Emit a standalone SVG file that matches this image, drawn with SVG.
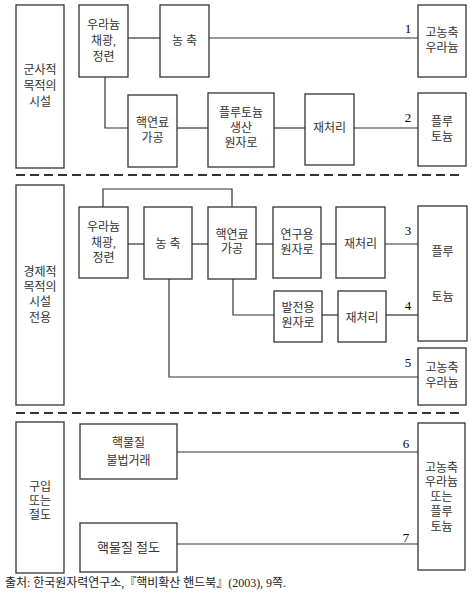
<svg xmlns="http://www.w3.org/2000/svg" width="476" height="603" viewBox="0 0 476 603">
<style>
rect{fill:#fff;stroke:#333;stroke-width:1.3}
.c path,.c line{fill:none;stroke:#333;stroke-width:1.2}
.d{stroke:#333;stroke-width:2;stroke-dasharray:9 5}
text{font-family:"Liberation Serif","Noto Sans CJK KR",serif;font-size:12px;fill:#333;text-anchor:middle;dominant-baseline:central}
.n{font-size:13px;fill:#000}
.cap{text-anchor:start;font-size:12px;fill:#222}
</style>
<rect width="476" height="603" style="fill:#fff;stroke:none"/>
<g class="c" id="connectors">
<line x1="128" y1="38" x2="160" y2="38"/>
<line x1="209" y1="38" x2="418" y2="38"/>
<path d="M105 77V128H128"/>
<line x1="177" y1="128" x2="208" y2="128"/>
<line x1="274" y1="128" x2="305" y2="128"/>
<line x1="354" y1="128" x2="418" y2="128"/>
<path d="M103 207V189H232V207"/>
<line x1="128" y1="244" x2="144" y2="244"/>
<line x1="192" y1="244" x2="208" y2="244"/>
<line x1="256" y1="244" x2="273" y2="244"/>
<line x1="321" y1="244" x2="336" y2="244"/>
<line x1="385" y1="244" x2="418" y2="244"/>
<path d="M233 279V315H274"/>
<line x1="322" y1="315" x2="338" y2="315"/>
<line x1="386" y1="315" x2="418" y2="315"/>
<path d="M169 279V377H418"/>
<line x1="177" y1="452" x2="418" y2="452"/>
<line x1="177" y1="544" x2="418" y2="544"/>
</g>
<g id="dividers">
<line class="d" x1="16" y1="175" x2="460" y2="175"/>
<line class="d" x1="16" y1="413" x2="460" y2="413"/>
</g>
<g id="labels">
<text class="n" x="408" y="28">1</text>
<text class="n" x="408" y="117">2</text>
<text class="n" x="408" y="230">3</text>
<text class="n" x="408" y="305">4</text>
<text class="n" x="408" y="362">5</text>
<text class="n" x="406" y="443">6</text>
<text class="n" x="406" y="537">7</text>
</g>
<g id="sec1-label"><rect x="16" y="5" width="48" height="163"/><text x="40" y="70">군사적</text><text x="40" y="86">목적의</text><text x="40" y="102">시설</text></g>
<g id="s1-mine"><rect x="79" y="5" width="49" height="72"/><text x="103.5" y="25">우라늄</text><text x="103.5" y="41">채광,</text><text x="103.5" y="57">정련</text></g>
<g id="s1-enrich"><rect x="160" y="5" width="49" height="72"/><text x="184.5" y="41">농 축</text></g>
<g id="s1-heu"><rect x="418" y="5" width="48" height="72"/><text x="442" y="33">고농축</text><text x="442" y="48">우라늄</text></g>
<g id="s1-fuel"><rect x="128" y="95" width="49" height="72"/><text x="152.5" y="123">핵연료</text><text x="152.5" y="138">가공</text></g>
<g id="s1-reactor"><rect x="208" y="93" width="66" height="74"/><text x="241" y="113">플루토늄</text><text x="241" y="128">생산</text><text x="241" y="143">원자로</text></g>
<g id="s1-repro"><rect x="305" y="94" width="49" height="71"/><text x="329.5" y="128">재처리</text></g>
<g id="s1-pu"><rect x="418" y="93" width="48" height="73"/><text x="442" y="122">플루</text><text x="442" y="137">토늄</text></g>
<g id="sec2-label"><rect x="16" y="185" width="48" height="220"/><text x="40" y="272">경제적</text><text x="40" y="287">목적의</text><text x="40" y="302">시설</text><text x="40" y="318">전용</text></g>
<g id="s2-mine"><rect x="79" y="207" width="49" height="71"/><text x="103.5" y="227">우라늄</text><text x="103.5" y="243">채광,</text><text x="103.5" y="258">정련</text></g>
<g id="s2-enrich"><rect x="144" y="207" width="48" height="72"/><text x="168" y="244">농 축</text></g>
<g id="s2-fuel"><rect x="208" y="207" width="48" height="72"/><text x="232" y="235">핵연료</text><text x="232" y="249">가공</text></g>
<g id="s2-research"><rect x="273" y="207" width="48" height="71"/><text x="297" y="235">연구용</text><text x="297" y="250">원자로</text></g>
<g id="s2-repro1"><rect x="336" y="207" width="49" height="71"/><text x="360.5" y="244">재처리</text></g>
<g id="s2-pu"><rect x="418" y="206" width="49" height="135"/><text x="442.5" y="252">플루</text><text x="442.5" y="297">토늄</text></g>
<g id="s2-power"><rect x="274" y="291" width="48" height="51"/><text x="298" y="308">발전용</text><text x="298" y="323">원자로</text></g>
<g id="s2-repro2"><rect x="338" y="291" width="48" height="51"/><text x="362" y="318">재처리</text></g>
<g id="s2-heu"><rect x="418" y="348" width="48" height="57"/><text x="442" y="368">고농축</text><text x="442" y="383">우라늄</text></g>
<g id="sec3-label"><rect x="16" y="422" width="48" height="151"/><text x="40" y="487">구입</text><text x="40" y="501">또는</text><text x="40" y="515">절도</text></g>
<g id="s3-traffic"><rect x="80" y="424" width="97" height="55"/><text x="128.5" y="443">핵물질</text><text x="128.5" y="461">불법거래</text></g>
<g id="s3-theft"><rect x="80" y="523" width="97" height="49"/><text x="128.5" y="547" style="font-size:13px">핵물질 절도</text></g>
<g id="s3-target"><rect x="418" y="423" width="47" height="147"/><text x="441.5" y="468">고농축</text><text x="441.5" y="482">우라늄</text><text x="441.5" y="497">또는</text><text x="441.5" y="512">플루</text><text x="441.5" y="527">토늄</text></g>
<text class="cap" x="5" y="583" textLength="281" lengthAdjust="spacing">출처: 한국원자력연구소,『핵비확산 핸드북』(2003), 9쪽.</text>
</svg>
